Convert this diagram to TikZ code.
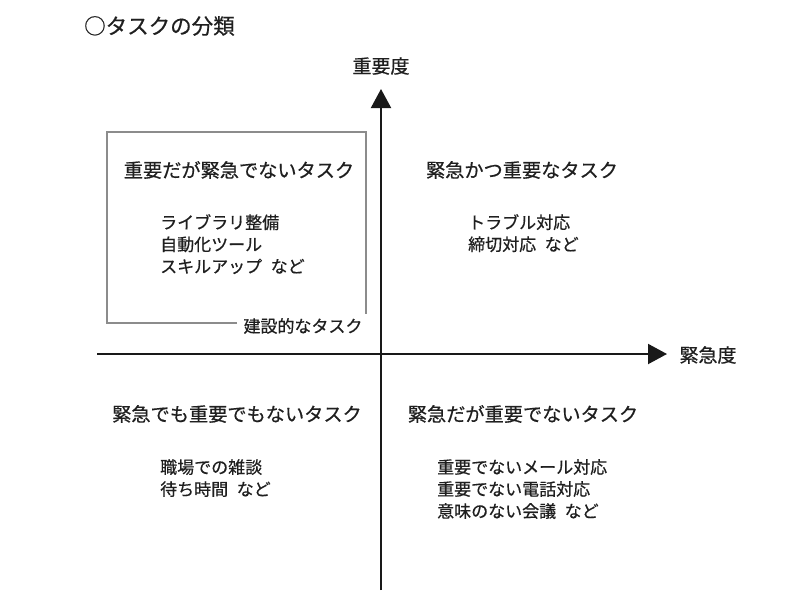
\documentclass[tikz,border=0pt]{standalone}
\usepackage{fontspec}
\newfontfamily\jp[FakeBold=0.6]{Noto Sans CJK JP}
\usetikzlibrary{arrows.meta}
\tikzset{
  axis/.style={line width=2pt, draw=black!90, -{Triangle[width=20pt,length=19pt]}},
  qtitle/.style={font=\jp\fontsize{19.2}{22}\selectfont, text=black!88, inner sep=0pt},
  item/.style={font=\jp\fontsize{17}{22}\selectfont, text=black!88, align=left, anchor=north west, inner sep=0pt},
  axlabel/.style={font=\jp\fontsize{19}{22}\selectfont, text=black!88, inner sep=0pt},
  graybox/.style={draw=black!45, line width=2pt}
}
\newcommand{\nd}{\hspace{0.5em}など}
\begin{document}
\begin{tikzpicture}[x=1pt,y=-1pt]
\useasboundingbox (0,0) rectangle (800,614);
\node[font=\jp\fontsize{21.5}{26}\selectfont, text=black!88, anchor=west, inner sep=0pt] (title) at (84,26) {○タスクの分類};
% axes
\coordinate (vb) at (381,590);
\coordinate (vt) at (381,89);
\coordinate (hl) at (97,354);
\coordinate (hr) at (667,354);
\draw[axis] (vb) -- (vt);
\draw[axis] (hl) -- (hr);
\node[axlabel] (ylab) at (381,66) {重要度};
\node[axlabel] (xlab) at (708,355) {緊急度};
% gray box
\node[font=\jp\fontsize{17}{20}\selectfont, text=black!88, inner sep=0pt] (constr) at (303,326) {建設的なタスク};
\coordinate (b1) at (237,323);
\coordinate (b2) at (107,323);
\coordinate (b3) at (107,132);
\coordinate (b4) at (366,132);
\coordinate (b5) at (366,314);
\draw[graybox] (b1) -- (b2) -- (b3) -- (b4) -- (b5);
% quadrant titles
\node[qtitle] (q1) at (239,170) {重要だが緊急でないタスク};
\node[qtitle] (q2) at (522,170) {緊急かつ重要なタスク};
\node[qtitle] (q3) at (237,414) {緊急でも重要でもないタスク};
\node[qtitle] (q4) at (523,414) {緊急だが重要でないタスク};
% items
\node[item] (i1) at (160,214) {ライブラリ整備\\自動化ツール\\スキルアップ\nd};
\node[item] (i2) at (468,214) {トラブル対応\\締切対応\nd};
\node[item] (i3) at (160,459) {職場での雑談\\待ち時間\nd};
\node[item] (i4) at (437,459) {重要でないメール対応\\重要でない電話対応\\意味のない会議\nd};
\end{tikzpicture}
\end{document}
